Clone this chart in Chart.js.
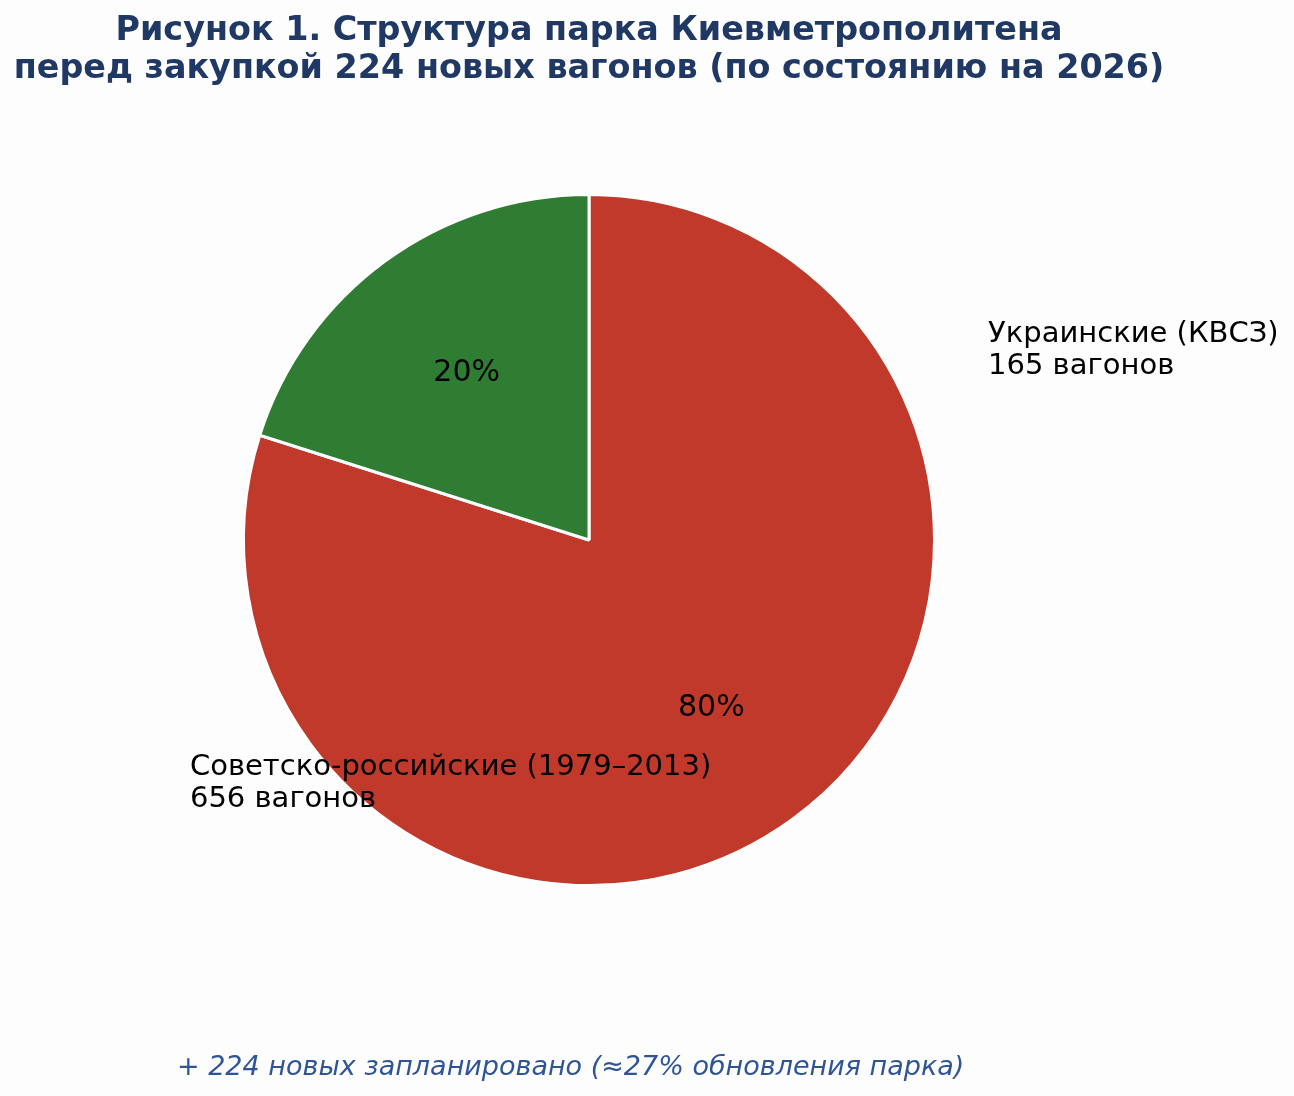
<!DOCTYPE html>
<html>
<head>
<meta charset="utf-8">
<script src="https://cdn.jsdelivr.net/npm/chart.js@4.4.1/dist/chart.umd.min.js"></script>
<style>
  html, body { margin: 0; padding: 0; background: #fdfdfd; }
  #wrap { width: 1294px; height: 1096px; position: relative; }
</style>
</head>
<body>
<div id="wrap"><canvas id="fleetChart"></canvas></div>
<script>
// data
const categories = ["Советско-российские (1979–2013)", "Украинские (КВСЗ)"];
const wagons = [656, 165];
const sliceColors = ["#c0392b", "#2e7d32"];
const titleLines = [
  "Рисунок 1. Структура парка Киевметрополитена",
  "перед закупкой 224 новых вагонов (по состоянию на 2026)"
];
const footnote = "+ 224 новых запланировано (≈27% обновления парка)";

const FONT = "'DejaVu Sans', sans-serif";

// text around the pie: title, percents, slice labels, footnote
const pieText = {
  id: "pieText",
  afterDraw(chart) {
    const ctx = chart.ctx;
    const arcs = chart.getDatasetMeta(0).data;
    const cx = arcs[0].x, cy = arcs[0].y, r = arcs[0].outerRadius;
    const total = wagons.reduce((a, b) => a + b, 0);
    ctx.save();

    // title
    ctx.fillStyle = "#1f3864";
    ctx.font = "bold 33.4px " + FONT;
    ctx.textAlign = "center";
    ctx.textBaseline = "middle";
    ctx.fillText(titleLines[0], cx, 31);
    ctx.fillText(titleLines[1], cx, 69);

    // percents at 0.6 r
    ctx.fillStyle = "#000";
    ctx.font = "30px " + FONT;
    arcs.forEach((a, i) => {
      const mid = (a.startAngle + a.endAngle) / 2;
      const pct = Math.round(wagons[i] / total * 100) + "%";
      ctx.fillText(pct, cx + Math.cos(mid) * r * 0.6, cy + Math.sin(mid) * r * 0.6 + 1);
    });

    // slice labels
    ctx.font = "29px " + FONT;
    ctx.textAlign = "left";
    const lab = [
      { x: cx - 1.155 * r, y: cy + 0.705 * r },
      { x: cx + 1.155 * r, y: cy - 0.55 * r }
    ];
    categories.forEach((c, i) => {
      ctx.fillText(c, lab[i].x, lab[i].y - 16);
      ctx.fillText(wagons[i] + " вагонов", lab[i].x, lab[i].y + 16);
    });

    // footnote
    ctx.fillStyle = "#2f5597";
    ctx.font = "italic 27px " + FONT;
    ctx.textAlign = "center";
    ctx.fillText(footnote, chart.width * 0.441, chart.height * 0.974);
    ctx.restore();
  }
};

new Chart(document.getElementById("fleetChart"), {
  type: "pie",
  data: {
    labels: categories,
    datasets: [{
      data: wagons,
      backgroundColor: sliceColors,
      borderColor: "#ffffff",
      borderWidth: 3
    }]
  },
  options: {
    responsive: true,
    maintainAspectRatio: false,
    animation: false,
    layout: { padding: { left: 242, right: 358, top: 193, bottom: 209 } },
    plugins: {
      legend: { display: false },
      tooltip: { enabled: false }
    }
  },
  plugins: [pieText]
});
</script>
</body>
</html>
